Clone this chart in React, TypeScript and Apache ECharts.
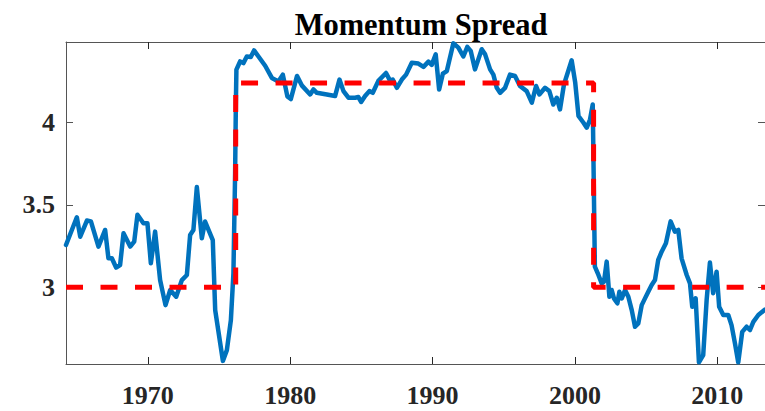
import React, { useEffect, useRef } from "react";
import * as echarts from "echarts";

const years: number[] = [
  1964.25, 1965.01, 1965.25, 1965.72, 1966.0, 1966.53, 1967.0, 1967.23, 1967.47, 1967.77,
  1968.05, 1968.29, 1968.76, 1969.04, 1969.27, 1969.69, 1969.97, 1970.21, 1970.51, 1970.86,
  1971.24, 1971.57, 1971.99, 1972.39, 1972.74, 1972.97, 1973.2, 1973.44, 1973.79, 1974.02,
  1974.56, 1974.73, 1975.27, 1975.55, 1975.83, 1976.01, 1976.13, 1976.18, 1976.22, 1976.48,
  1976.71, 1976.95, 1977.23, 1977.46, 1977.77, 1978.24, 1978.71, 1979.17, 1979.48, 1979.8,
  1980.04, 1980.48, 1980.81, 1981.4, 1981.63, 1981.87, 1982.57, 1983.15, 1983.46, 1983.74,
  1984.09, 1984.56, 1984.79, 1984.98, 1985.26, 1985.56, 1985.8, 1986.19, 1986.73, 1987.02,
  1987.2, 1987.49, 1987.84, 1988.14, 1988.54, 1989.0, 1989.36, 1989.71, 1989.94, 1990.22,
  1990.46, 1990.72, 1991.0, 1991.46, 1991.81, 1992.16, 1992.44, 1992.68, 1992.98, 1993.45,
  1993.69, 1994.04, 1994.27, 1994.51, 1994.74, 1995.09, 1995.44, 1995.79, 1996.14, 1996.61,
  1996.97, 1997.27, 1997.5, 1997.9, 1998.2, 1998.48, 1998.72, 1998.95, 1999.23, 1999.53,
  1999.77, 2000.02, 2000.25, 2000.6, 2000.83, 2001.06, 2001.25, 2001.4, 2001.65, 2001.88,
  2002.04, 2002.23, 2002.42, 2002.58, 2002.74, 2002.98, 2003.12, 2003.29, 2003.52, 2003.75,
  2003.99, 2004.22, 2004.45, 2004.69, 2004.92, 2005.15, 2005.39, 2005.62, 2005.85, 2006.09,
  2006.39, 2006.72, 2007.02, 2007.26, 2007.49, 2007.85, 2008.08, 2008.24, 2008.48, 2008.71,
  2009.01, 2009.25, 2009.48, 2009.71, 2009.95, 2010.13, 2010.42, 2010.77, 2011.0, 2011.24,
  2011.47, 2011.75, 2012.06, 2012.29, 2012.53, 2012.88, 2013.35,
];

const spread: number[] = [
  3.257, 3.425, 3.307, 3.405, 3.4, 3.247, 3.348, 3.176, 3.176, 3.12,
  3.135, 3.328, 3.247, 3.277, 3.44, 3.389, 3.389, 3.146, 3.338, 3.044,
  2.892, 2.984, 2.943, 3.044, 3.075, 3.318, 3.348, 3.608, 3.298, 3.399,
  3.287, 2.862, 2.554, 2.619, 2.8, 3.085, 3.693, 4.1, 4.32, 4.37,
  4.36, 4.4, 4.397, 4.437, 4.4, 4.344, 4.27, 4.249, 4.29, 4.158,
  4.142, 4.282, 4.225, 4.17, 4.2, 4.18, 4.17, 4.16, 4.26, 4.19,
  4.15, 4.15, 4.154, 4.124, 4.16, 4.19, 4.18, 4.252, 4.3, 4.252,
  4.26, 4.21, 4.26, 4.29, 4.362, 4.357, 4.337, 4.369, 4.349, 4.413,
  4.2, 4.296, 4.312, 4.48, 4.454, 4.4, 4.458, 4.434, 4.322, 4.444,
  4.413, 4.322, 4.29, 4.21, 4.18, 4.21, 4.29, 4.282, 4.221, 4.19,
  4.12, 4.221, 4.17, 4.21, 4.19, 4.109, 4.15, 4.079, 4.231, 4.312,
  4.377, 4.241, 4.039, 3.998, 3.968, 4.018, 4.109, 3.125, 3.075, 3.024,
  3.034, 3.156, 2.943, 2.984, 2.933, 2.903, 2.973, 2.933, 2.984, 2.943,
  2.862, 2.761, 2.781, 2.892, 2.933, 2.973, 3.014, 3.044, 3.166, 3.216,
  3.267, 3.4, 3.338, 3.348, 3.176, 3.075, 3.024, 2.882, 2.933, 2.545,
  2.589, 2.923, 3.15, 2.964, 3.095, 2.882, 2.832, 2.832, 2.771, 2.66,
  2.545, 2.73, 2.761, 2.741, 2.791, 2.832, 2.865,
];

const regimeYears: number[] = [1964.25, 1976.17, 1976.17, 2001.31, 2001.31, 2013.35];
const regimeLevels: number[] = [3, 3, 4.24, 4.24, 3, 3];

const xTicks: number[] = [1970, 1980, 1990, 2000, 2010];
const yTicks: number[] = [3, 3.5, 4];

const X_MIN = 1964.25;
const X_MAX = 2013.35;
const Y_MIN = 2.535;
const Y_MAX = 4.488;

const FONT = "'Liberation Serif', 'Times New Roman', serif";
const AXIS_COLOR = "#555555";
const TEXT_COLOR = "#262626";

export default function App() {
  const ref = useRef<HTMLDivElement>(null);

  useEffect(() => {
    document.body.style.margin = "0";
    if (!ref.current) return;
    const chart = echarts.init(ref.current, null, { renderer: "svg" });

    const lineData = years.map((y, i) => [y, spread[i]]);
    const regimeData = regimeYears.map((y, i) => [y, regimeLevels[i]]);

    const xCommon = {
      type: "value" as const,
      min: X_MIN,
      max: X_MAX,
      splitLine: { show: false },
      axisLine: { show: true, lineStyle: { color: AXIS_COLOR, width: 1 } },
      axisTick: {
        show: true,
        inside: true,
        length: 7,
        customValues: xTicks,
        lineStyle: { color: TEXT_COLOR, width: 1 },
      },
    };
    const yCommon = {
      type: "value" as const,
      min: Y_MIN,
      max: Y_MAX,
      splitLine: { show: false },
      axisLine: { show: true, lineStyle: { color: AXIS_COLOR, width: 1 } },
      axisTick: {
        show: true,
        inside: true,
        length: 7,
        customValues: yTicks,
        lineStyle: { color: AXIS_COLOR, width: 1 },
      },
    };

    chart.setOption({
      animation: false,
      title: {
        text: "Momentum Spread",
        left: 416,
        top: 4,
        textAlign: "center",
        textStyle: {
          fontFamily: FONT,
          fontWeight: "bold",
          fontSize: 30.5,
          color: "#000000",
        },
      },
      grid: { left: 66, top: 42, width: 700, height: 322, containLabel: false },
      xAxis: [
        {
          ...xCommon,
          position: "bottom",
          axisLabel: {
            show: true,
            customValues: xTicks,
            margin: 18,
            fontFamily: FONT,
            fontWeight: "bold",
            fontSize: 26,
            color: TEXT_COLOR,
            formatter: (v: number) => String(v),
          },
        },
        {
          ...xCommon,
          position: "top",
          axisLabel: { show: false },
        },
      ],
      yAxis: [
        {
          ...yCommon,
          position: "left",
          axisLabel: {
            show: true,
            customValues: yTicks,
            margin: 11,
            fontFamily: FONT,
            fontWeight: "bold",
            fontSize: 26,
            color: TEXT_COLOR,
            formatter: (v: number) => String(v),
          },
        },
        {
          ...yCommon,
          position: "right",
          axisLabel: { show: false },
        },
      ],
      series: [
        {
          type: "line",
          data: lineData,
          showSymbol: false,
          symbol: "none",
          lineStyle: { color: "#0072BD", width: 4.5, join: "round", cap: "round" },
          clip: true,
          z: 2,
        },
        {
          type: "line",
          data: regimeData,
          showSymbol: false,
          symbol: "none",
          lineStyle: { color: "#FF0000", width: 5, type: [17, 17.5], cap: "butt" },
          clip: true,
          z: 3,
        },
      ],
    });

    return () => {
      chart.dispose();
    };
  }, []);

  return <div ref={ref} style={{ width: 765, height: 411 }} />;
}
